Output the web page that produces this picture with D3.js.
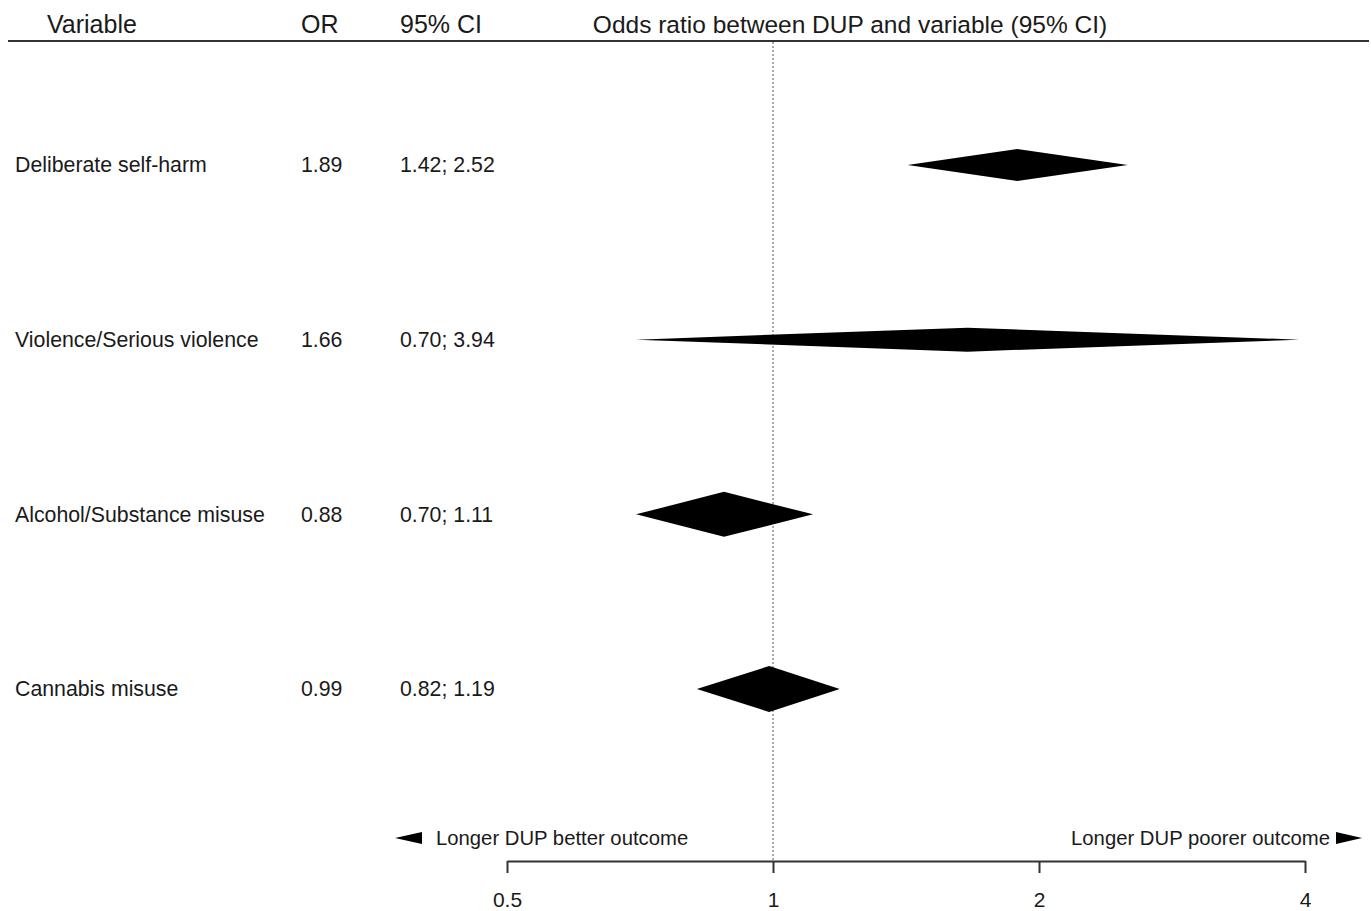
<!DOCTYPE html>
<html lang="en">
<head>
    <meta charset="UTF-8">
    <title>DUP odds ratios</title>
    <script src="https://d3js.org/d3.v7.min.js"></script>
    <style>
        body, html { margin: 0; background: #fff; }
        text { font-family: "Liberation Sans", Arial, sans-serif; fill: #1a1a1a; }
    </style>
</head>
<body>
<div id="chart"></div>
<script>
    // data
    var variables = ["Deliberate self-harm", "Violence/Serious violence", "Alcohol/Substance misuse", "Cannabis misuse"];
    var orValues = [1.89, 1.66, 0.88, 0.99];
    var ciLower = [1.42, 0.70, 0.70, 0.82];
    var ciUpper = [2.52, 3.94, 1.11, 1.19];
    var weights = [16, 12, 22.5, 23];   // relative box weights (diamond heights)
    var tickValues = [0.5, 1, 2, 4];
    var headers = ["Variable", "OR", "95% CI", "Odds ratio between DUP and variable (95% CI)"];

    var width = 1371, height = 911;

    var svg = d3.select("#chart").append("svg")
        .attr("width", width)
        .attr("height", height);

    var x = d3.scaleLog().base(2).domain([0.5, 4]).range([507, 1305]);
    var y = d3.scalePoint().domain(variables).range([165, 689]);
    var h = d3.scaleLinear().domain([0, 23]).range([0, 23]);

    // header
    var hdr = svg.append("g").attr("class", "header");
    hdr.append("text").attr("x", 47).attr("y", 33).style("font-size", "25px").text(headers[0]);
    hdr.append("text").attr("x", 301).attr("y", 33).style("font-size", "25px").text(headers[1]);
    hdr.append("text").attr("x", 400).attr("y", 33).style("font-size", "25px").text(headers[2]);
    hdr.append("text").attr("x", 850).attr("y", 33).attr("text-anchor", "middle")
        .style("font-size", "24.5px").text(headers[3]);
    hdr.append("line").attr("x1", 8).attr("x2", 1369).attr("y1", 41).attr("y2", 41)
        .attr("stroke", "#333").attr("stroke-width", 2);

    // reference line at OR = 1
    svg.append("line")
        .attr("x1", x(1)).attr("x2", x(1))
        .attr("y1", 42).attr("y2", 862)
        .attr("stroke", "#555").attr("stroke-width", 1)
        .attr("stroke-dasharray", "2,2");

    var rows = variables.map(function (v, i) {
        return { name: v, or: orValues[i], lo: ciLower[i], hi: ciUpper[i], w: weights[i] };
    });

    var row = svg.append("g").attr("class", "rows")
        .selectAll("g").data(rows).enter().append("g");

    row.append("text").attr("x", 15).attr("y", d => y(d.name)).attr("dy", "0.35em")
        .style("font-size", "21.3px").text(d => d.name);
    row.append("text").attr("x", 301).attr("y", d => y(d.name)).attr("dy", "0.35em")
        .style("font-size", "21.3px").text(d => d.or.toFixed(2));
    row.append("text").attr("x", 400).attr("y", d => y(d.name)).attr("dy", "0.35em")
        .style("font-size", "21.3px").text(d => d.lo.toFixed(2) + "; " + d.hi.toFixed(2));

    row.append("path")
        .attr("d", function (d) {
            var cy = y(d.name), hh = h(d.w);
            return "M" + x(d.lo) + "," + cy +
                "L" + x(d.or) + "," + (cy - hh) +
                "L" + x(d.hi) + "," + cy +
                "L" + x(d.or) + "," + (cy + hh) + "Z";
        })
        .attr("fill", "#000");

    // x axis
    var axis = d3.axisBottom(x).tickValues(tickValues).tickSize(12).tickPadding(19)
        .tickFormat(d3.format("")).tickSizeOuter(0);
    var ax = svg.append("g").attr("transform", "translate(0,861)").call(axis);
    ax.select(".domain").attr("stroke", "#333").attr("stroke-width", 2);
    ax.selectAll(".tick line").attr("stroke", "#333").attr("stroke-width", 2);
    ax.selectAll(".tick text").style("font-size", "21px").attr("fill", "#1a1a1a")
        .style("font-family", "'Liberation Sans', Arial, sans-serif");

    // direction labels
    svg.append("path").attr("d", "M395,838L422,832L422,844Z").attr("fill", "#000");
    svg.append("text").attr("x", 436).attr("y", 838).attr("dy", "0.35em")
        .style("font-size", "20.3px").text("Longer DUP better outcome");
    svg.append("path").attr("d", "M1362,838L1336,832L1336,844Z").attr("fill", "#000");
    svg.append("text").attr("x", 1330).attr("y", 838).attr("dy", "0.35em").attr("text-anchor", "end")
        .style("font-size", "20.3px").text("Longer DUP poorer outcome");
</script>
</body>
</html>
